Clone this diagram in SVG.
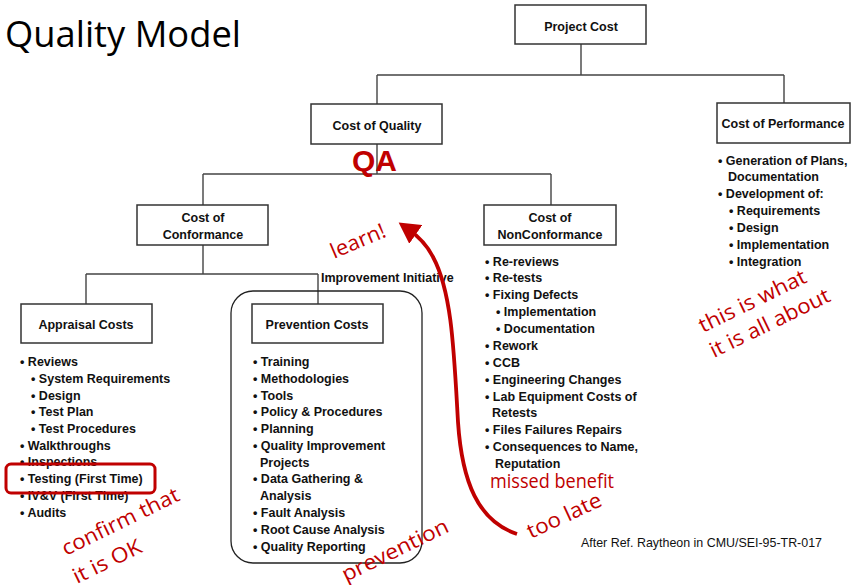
<svg xmlns="http://www.w3.org/2000/svg" width="852" height="585" viewBox="0 0 852 585">
<style>
.box{fill:#fff;stroke:#333;stroke-width:1.5}
.ln{fill:none;stroke:#444;stroke-width:1.4}
.bt{font-family:"Liberation Sans",Arial,sans-serif;font-weight:bold;font-size:12.5px;fill:#111;text-anchor:middle}
.li{font-family:"Liberation Sans",Arial,sans-serif;font-weight:bold;font-size:12.5px;fill:#111}
.red{font-family:"Open Sans","Lato",sans-serif;font-size:21px;fill:#c00000}
</style>
<defs>
<marker id="ah" markerWidth="6" markerHeight="6" refX="2.5" refY="3" orient="auto" markerUnits="strokeWidth">
<path d="M0,0 L5.5,3 L0,6 Z" fill="#c00000"/>
</marker>
</defs>
<rect width="852" height="585" fill="#fff"/>
<text x="5" y="47" font-family="'Open Sans','Lato',sans-serif" font-size="36" fill="#000" textLength="236" lengthAdjust="spacingAndGlyphs">Quality Model</text>

<g id="connectors">
<path class="ln" d="M581,44 V75 M377,75 H784 M377,75 V104 M784,75 V103"/>
<path class="ln" d="M377,144 V174 M203,174 H551 M203,174 V205 M551,174 V205"/>
<path class="ln" d="M203,245 V274 M86,274 H318 M86,274 V304 M318,274 V304"/>
</g>

<g id="project-cost"><rect class="box" x="515" y="5" width="131" height="39"/><text class="bt" x="581" y="31">Project Cost</text></g>
<g id="cost-of-quality"><rect class="box" x="311" y="104" width="131" height="40"/><text class="bt" x="377" y="129.5">Cost of Quality</text></g>
<g id="cost-of-performance"><rect class="box" x="717" y="103" width="133" height="40"/><text class="bt" x="783" y="127.5">Cost of Performance</text></g>
<g id="cost-of-conformance"><rect class="box" x="137" y="205" width="131" height="40"/><text class="bt" x="203" y="221.5">Cost of</text><text class="bt" x="203" y="238.5">Conformance</text></g>
<g id="cost-of-nonconformance"><rect class="box" x="484" y="205" width="132" height="40"/><text class="bt" x="550" y="221.5">Cost of</text><text class="bt" x="550" y="238.5">NonConformance</text></g>
<g id="improvement-initiative"><rect x="231" y="291" width="191" height="272" rx="22" fill="none" stroke="#222" stroke-width="1.3"/><text class="li" x="321" y="282">Improvement Initiative</text></g>
<g id="appraisal-costs"><rect class="box" x="21" y="304" width="131" height="39"/><text class="bt" x="86" y="328.5">Appraisal Costs</text></g>
<g id="prevention-costs"><rect class="box" x="252" y="304" width="131" height="39"/><text class="bt" x="317" y="328.5">Prevention Costs</text></g>

<g id="appraisal-list">
<text class="li" x="20" y="366">• Reviews</text>
<text class="li" x="31" y="383">• System Requirements</text>
<text class="li" x="31" y="400">• Design</text>
<text class="li" x="31" y="416">• Test Plan</text>
<text class="li" x="31" y="433">• Test Procedures</text>
<text class="li" x="20" y="450">• Walkthroughs</text>
<text class="li" x="20" y="466">• Inspections</text>
<text class="li" x="20" y="483">• Testing (First Time)</text>
<text class="li" x="20" y="500">• IV&amp;V (First Time)</text>
<text class="li" x="20" y="517">• Audits</text>
</g>
<g id="prevention-list">
<text class="li" x="253" y="366">• Training</text>
<text class="li" x="253" y="383">• Methodologies</text>
<text class="li" x="253" y="400">• Tools</text>
<text class="li" x="253" y="416">• Policy &amp; Procedures</text>
<text class="li" x="253" y="433">• Planning</text>
<text class="li" x="253" y="450">• Quality Improvement</text>
<text class="li" x="260" y="467">Projects</text>
<text class="li" x="253" y="483">• Data Gathering &amp;</text>
<text class="li" x="260" y="500">Analysis</text>
<text class="li" x="253" y="517">• Fault Analysis</text>
<text class="li" x="253" y="534">• Root Cause Analysis</text>
<text class="li" x="253" y="551">• Quality Reporting</text>
</g>
<g id="nonconformance-list">
<text class="li" x="485" y="265.5">• Re-reviews</text>
<text class="li" x="485" y="282">• Re-tests</text>
<text class="li" x="485" y="299">• Fixing Defects</text>
<text class="li" x="496" y="316">• Implementation</text>
<text class="li" x="496" y="332.5">• Documentation</text>
<text class="li" x="485" y="349.5">• Rework</text>
<text class="li" x="485" y="366.5">• CCB</text>
<text class="li" x="485" y="383.5">• Engineering Changes</text>
<text class="li" x="485" y="400.5">• Lab Equipment Costs of</text>
<text class="li" x="492" y="417">Retests</text>
<text class="li" x="485" y="434">• Files Failures Repairs</text>
<text class="li" x="485" y="450.5">• Consequences to Name,</text>
<text class="li" x="495" y="467.5">Reputation</text>
</g>
<g id="performance-list">
<text class="li" x="718" y="164.5">• Generation of Plans,</text>
<text class="li" x="728" y="181">Documentation</text>
<text class="li" x="718" y="198">• Development of:</text>
<text class="li" x="729" y="214.5">• Requirements</text>
<text class="li" x="729" y="231.5">• Design</text>
<text class="li" x="729" y="248.5">• Implementation</text>
<text class="li" x="729" y="265.5">• Integration</text>
</g>

<g id="annotations">
<text x="352" y="171" font-family="'Liberation Sans',Arial,sans-serif" font-weight="bold" font-size="30" fill="#c00000" textLength="45" lengthAdjust="spacingAndGlyphs">QA</text>
<rect x="6" y="464" width="149" height="29" rx="5" fill="none" stroke="#c00000" stroke-width="3"/>
<path d="M517,534 C478,521 462,482 458,422 C454,352 452,292 433,257 C427,245 418,236 408,229" fill="none" stroke="#c00000" stroke-width="3.8" marker-end="url(#ah)"/>
<text class="red" transform="translate(334,259) rotate(-23)" textLength="58" lengthAdjust="spacingAndGlyphs">learn!</text>
<text class="red" x="490" y="488" style="font-size:20px" textLength="124" lengthAdjust="spacingAndGlyphs">missed benefit</text>
<text class="red" transform="translate(531,539) rotate(-25)" textLength="80" lengthAdjust="spacingAndGlyphs">too late</text>
<text class="red" transform="translate(346,582) rotate(-26)" textLength="116" lengthAdjust="spacingAndGlyphs">prevention</text>
<text class="red" transform="translate(66,556) rotate(-26)" textLength="128" lengthAdjust="spacingAndGlyphs">confirm that</text>
<text class="red" transform="translate(77,584) rotate(-26)" textLength="74" lengthAdjust="spacingAndGlyphs">it is OK</text>
<text class="red" transform="translate(703,333) rotate(-26)" textLength="117" lengthAdjust="spacingAndGlyphs">this is what</text>
<text class="red" transform="translate(714,358) rotate(-26)" textLength="131" lengthAdjust="spacingAndGlyphs">it is all about</text>
<text x="581" y="547" font-family="'Liberation Sans',Arial,sans-serif" font-size="13" fill="#111" textLength="241" lengthAdjust="spacingAndGlyphs">After Ref. Raytheon in CMU/SEI-95-TR-017</text>
</g>
</svg>
